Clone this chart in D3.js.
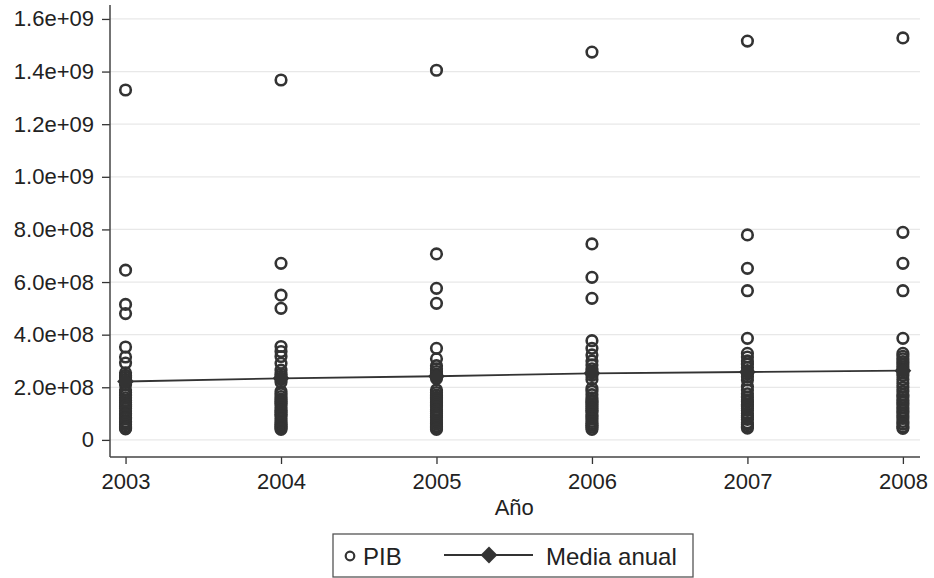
<!doctype html>
<html lang="es">
<head>
  <meta charset="utf-8">
  <title>PIB por año</title>
  <script src="https://d3js.org/d3.v7.min.js"></script>
  <style>
    body { margin: 0; background: #fff; }
    text { font-family: "Liberation Sans", Arial, sans-serif; fill: #222; }
  </style>
</head>
<body>
<div id="chart"></div>
<script>
  const width = 934, height = 578;

  // data (PIB per year, 32 observations each)
  const years = [2003, 2004, 2005, 2006, 2007, 2008];
  const pib2003 = [13.3e8, 6.45e8, 5.15e8, 4.8e8, 3.53e8, 3.15e8, 2.92e8, 2.55e8, 2.45e8, 2.38e8, 2.3e8, 2.1e8, 1.9e8, 1.8e8, 1.7e8, 1.6e8,
                   1.5e8, 1.42e8, 1.35e8, 1.28e8, 1.2e8, 1.1e8, 1.0e8, 0.95e8, 0.85e8, 0.8e8, 0.7e8, 0.65e8, 0.58e8, 0.5e8, 0.45e8, 0.42e8];
  const pib2004 = [13.68e8, 6.71e8, 5.5e8, 5.0e8, 3.55e8, 3.36e8, 3.17e8, 2.91e8, 2.65e8, 2.5e8, 2.42e8, 2.3e8, 2.2e8, 1.84e8, 1.75e8, 1.65e8,
                   1.55e8, 1.47e8, 1.4e8, 1.32e8, 1.22e8, 1.12e8, 1.05e8, 0.97e8, 0.9e8, 0.8e8, 0.72e8, 0.65e8, 0.58e8, 0.52e8, 0.45e8, 0.4e8];
  const pib2005 = [14.05e8, 7.07e8, 5.76e8, 5.19e8, 3.48e8, 3.08e8, 2.82e8, 2.7e8, 2.6e8, 2.5e8, 2.42e8, 2.33e8, 1.9e8, 1.8e8, 1.7e8, 1.62e8,
                   1.55e8, 1.48e8, 1.4e8, 1.32e8, 1.25e8, 1.15e8, 1.08e8, 1.0e8, 0.92e8, 0.85e8, 0.76e8, 0.68e8, 0.6e8, 0.52e8, 0.45e8, 0.4e8];
  const pib2006 = [14.74e8, 7.45e8, 6.18e8, 5.38e8, 3.77e8, 3.48e8, 3.23e8, 3.0e8, 2.85e8, 2.7e8, 2.6e8, 2.45e8, 2.3e8, 1.96e8, 1.85e8, 1.72e8,
                   1.6e8, 1.5e8, 1.45e8, 1.36e8, 1.28e8, 1.2e8, 1.12e8, 1.05e8, 0.95e8, 0.88e8, 0.8e8, 0.7e8, 0.62e8, 0.55e8, 0.48e8, 0.4e8];
  const pib2007 = [15.16e8, 7.79e8, 6.52e8, 5.67e8, 3.86e8, 3.29e8, 3.15e8, 3.0e8, 2.88e8, 2.75e8, 2.62e8, 2.5e8, 2.4e8, 2.28e8, 2.03e8, 1.9e8,
                   1.75e8, 1.62e8, 1.52e8, 1.45e8, 1.35e8, 1.28e8, 1.2e8, 1.12e8, 1.0e8, 0.92e8, 0.85e8, 0.78e8, 0.65e8, 0.58e8, 0.5e8, 0.45e8];
  const pib2008 = [15.28e8, 7.89e8, 6.71e8, 5.67e8, 3.86e8, 3.29e8, 3.18e8, 3.08e8, 2.98e8, 2.88e8, 2.78e8, 2.68e8, 2.55e8, 2.45e8, 2.3e8, 2.15e8,
                   2.0e8, 1.85e8, 1.72e8, 1.62e8, 1.52e8, 1.42e8, 1.32e8, 1.22e8, 1.12e8, 1.02e8, 0.92e8, 0.82e8, 0.7e8, 0.6e8, 0.5e8, 0.44e8];
  const mediaAnual = [2.22e8, 2.34e8, 2.42e8, 2.53e8, 2.58e8, 2.63e8];

  const yTicks = [0, 2e8, 4e8, 6e8, 8e8, 1e9, 1.2e9, 1.4e9, 1.6e9];
  const yTickLabels = ["0", "2.0e+08", "4.0e+08", "6.0e+08", "8.0e+08", "1.0e+09", "1.2e+09", "1.4e+09", "1.6e+09"];

  const pibByYear = [pib2003, pib2004, pib2005, pib2006, pib2007, pib2008];
  const points = [];
  years.forEach((yr, i) => pibByYear[i].forEach((v) => points.push({x: yr, y: v})));
  const means = years.map((yr, i) => ({x: yr, y: mediaAnual[i]}));

  // scales
  const x = d3.scaleLinear().domain([2002.9, 2008.11]).range([110, 920]);
  const y = d3.scaleLinear().domain([-6.5e7, 1.653e9]).range([457, 5]);

  const svg = d3.select('#chart').append('svg')
    .attr('width', width)
    .attr('height', height)
    .style('background', '#fff');

  // gridlines
  svg.append('g').selectAll('line')
    .data(yTicks)
    .enter().append('line')
      .attr('x1', x.range()[0]).attr('x2', x.range()[1])
      .attr('y1', (d) => y(d)).attr('y2', (d) => y(d))
      .attr('stroke', '#e8e8e8')
      .attr('stroke-width', 1.2);

  // axes
  const yAxis = svg.append('g')
    .attr('transform', 'translate(' + x.range()[0] + ',0)')
    .call(d3.axisLeft(y).tickValues(yTicks).tickSize(8).tickPadding(8)
      .tickFormat((d, i) => yTickLabels[i]));
  const xAxis = svg.append('g')
    .attr('transform', 'translate(0,' + y.range()[0] + ')')
    .call(d3.axisBottom(x).tickValues(years).tickSize(7).tickPadding(9).tickFormat(d3.format('d')));

  [yAxis, xAxis].forEach((g) => {
    g.select('.domain').attr('d', null);
    g.selectAll('.tick line').attr('stroke', '#333').attr('stroke-width', 1.3);
    g.selectAll('.tick text').style('font-size', '22px').attr('fill', '#222');
  });
  svg.append('line')
    .attr('x1', x.range()[0]).attr('x2', x.range()[0])
    .attr('y1', y.range()[1]).attr('y2', y.range()[0])
    .attr('stroke', '#444').attr('stroke-width', 1.5);
  svg.append('line')
    .attr('x1', x.range()[0]).attr('x2', x.range()[1])
    .attr('y1', y.range()[0]).attr('y2', y.range()[0])
    .attr('stroke', '#444').attr('stroke-width', 1.5);

  svg.append('text')
    .attr('x', (x(2003) + x(2008)) / 2)
    .attr('y', 515)
    .attr('text-anchor', 'middle')
    .style('font-size', '22px')
    .text('Año');

  // PIB points
  svg.append('g').selectAll('circle')
    .data(points)
    .enter().append('circle')
      .attr('cx', (d) => x(d.x))
      .attr('cy', (d) => y(d.y))
      .attr('r', 5.3)
      .attr('fill', 'none')
      .attr('stroke', '#333')
      .attr('stroke-width', 2.6);

  // annual mean line
  const line = d3.line().x((d) => x(d.x)).y((d) => y(d.y));
  svg.append('path')
    .datum(means)
    .attr('d', line)
    .attr('fill', 'none')
    .attr('stroke', '#333')
    .attr('stroke-width', 1.8);
  const diamond = d3.symbol().type(d3.symbolDiamond2).size(180);
  svg.append('g').selectAll('path')
    .data(means)
    .enter().append('path')
      .attr('transform', (d) => 'translate(' + x(d.x) + ',' + y(d.y) + ')')
      .attr('d', diamond)
      .attr('fill', '#333');

  // legend
  const legend = svg.append('g');
  legend.append('rect')
    .attr('x', 333).attr('y', 534).attr('width', 360).attr('height', 43)
    .attr('fill', '#fff').attr('stroke', '#555').attr('stroke-width', 1.3);
  legend.append('circle')
    .attr('cx', 350).attr('cy', 556).attr('r', 4.3)
    .attr('fill', 'none').attr('stroke', '#333').attr('stroke-width', 2.2);
  legend.append('text')
    .attr('x', 363).attr('y', 565)
    .style('font-size', '24px')
    .text('PIB');
  legend.append('line')
    .attr('x1', 444).attr('x2', 533).attr('y1', 555).attr('y2', 555)
    .attr('stroke', '#333').attr('stroke-width', 1.8);
  legend.append('path')
    .attr('transform', 'translate(489,555)')
    .attr('d', diamond)
    .attr('fill', '#333');
  legend.append('text')
    .attr('x', 546).attr('y', 565)
    .style('font-size', '24px')
    .text('Media anual');
</script>
</body>
</html>
